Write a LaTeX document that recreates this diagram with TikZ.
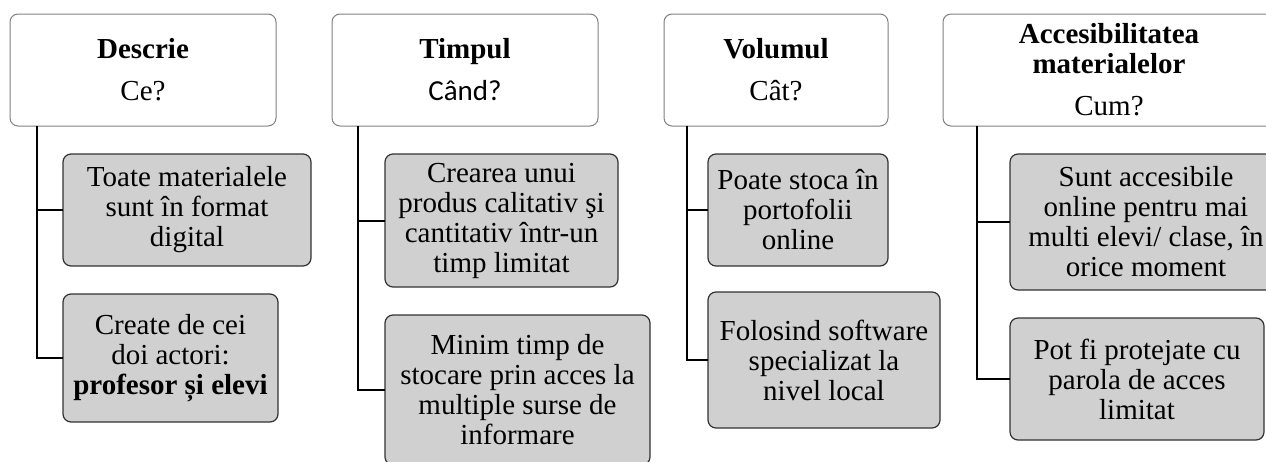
\documentclass[tikz,border=0pt]{standalone}
\usepackage{fontspec}
\setmainfont{Liberation Serif}
\newfontfamily\calibrifont{Carlito}
\usetikzlibrary{calc}
\definecolor{childfill}{RGB}{208,208,208}
\definecolor{headdraw}{RGB}{128,128,128}
\definecolor{childdraw}{RGB}{50,50,50}
\begin{document}
\begin{tikzpicture}[x=1pt,y=-1pt,
  box/.style={anchor=north west, rounded corners=8pt, inner sep=0pt, outer sep=0pt,
    align=center, font=\fontsize{29}{30}\selectfont},
  head/.style={box, draw=headdraw, line width=1pt, fill=white},
  child/.style={box, draw=childdraw, line width=1.2pt, fill=childfill},
  conn/.style={draw=black, line width=2pt}]
\useasboundingbox (0,0) rectangle (1266,461);
\clip (0,0) rectangle (1266,461);

% column 1
\node[head, minimum width=266pt, minimum height=112pt] (t1) at (10,14)
  {\textbf{Descrie}\\[12pt]Ce?};
\node[child, minimum width=248pt, minimum height=112pt] (c11) at (63,154)
  {Toate materialele\\sunt în format\\digital};
\node[child, minimum width=215pt, minimum height=128pt] (c12) at (63,294)
  {Create de cei\\doi actori:\\\textbf{profesor și elevi}};

% column 2
\node[head, minimum width=266pt, minimum height=112pt] (t2) at (332,14)
  {\textbf{Timpul}\\[12pt]{\calibrifont Când?}};
\node[child, minimum width=233pt, minimum height=133pt] (c21) at (385,154)
  {Crearea unui\\produs calitativ şi\\cantitativ într-un\\timp limitat};
\node[child, minimum width=265pt, minimum height=150pt] (c22) at (385,315)
  {Minim timp de\\stocare prin acces la\\multiple surse de\\informare};

% column 3
\node[head, minimum width=224pt, minimum height=112pt] (t3) at (664,14)
  {\textbf{Volumul}\\[12pt]Cât?};
\node[child, minimum width=180pt, minimum height=112pt] (c31) at (708,154)
  {Poate stoca în\\portofolii\\online};
\node[child, minimum width=232pt, minimum height=136pt] (c32) at (708,292)
  {Folosind software\\specializat la\\nivel local};

% column 4
\node[head, minimum width=332pt, minimum height=112pt] (t4) at (943,14)
  {\textbf{Accesibilitatea}\\\textbf{materialelor}\\[12pt]Cum?};
\node[child, minimum width=272pt, minimum height=136pt] (c41) at (1010,154)
  {Sunt accesibile\\online pentru mai\\multi elevi/ clase, în\\orice moment};
\node[child, minimum width=254pt, minimum height=122pt] (c42) at (1010,318)
  {Pot fi protejate cu\\parola de acces\\limitat};

% connectors
\coordinate (v1) at ($(t1.south west)+(27pt,0)$);
\coordinate (v2) at ($(t2.south west)+(26pt,0)$);
\coordinate (v3) at ($(t3.south west)+(23pt,0)$);
\coordinate (v4) at ($(t4.south west)+(34pt,0)$);
\draw[conn] (v1) |- (c11.west);
\draw[conn] (v1) |- (c12.west);
\draw[conn] (v2) |- (c21.west);
\draw[conn] (v2) |- (c22.west);
\draw[conn] (v3) |- (c31.west);
\draw[conn] (v3) |- (c32.west);
\draw[conn] (v4) |- (c41.west);
\draw[conn] (v4) |- (c42.west);
\end{tikzpicture}
\end{document}
